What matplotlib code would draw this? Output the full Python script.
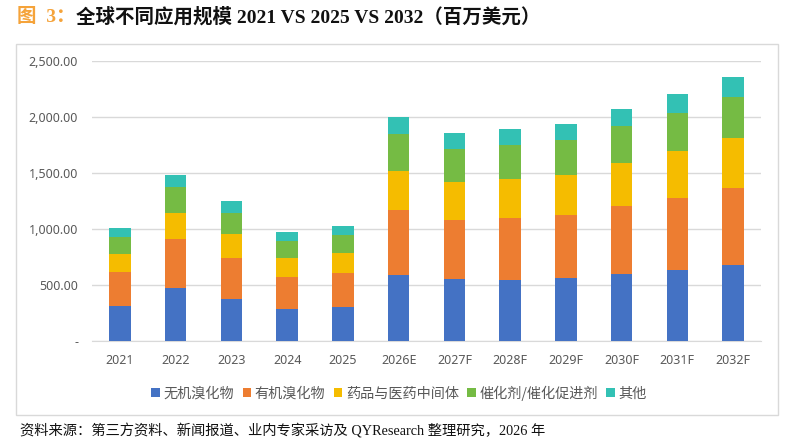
import matplotlib
matplotlib.use("Agg")
import matplotlib.pyplot as plt
import numpy as np
from matplotlib.patches import Rectangle
from matplotlib.ticker import FuncFormatter, MultipleLocator

plt.rcParams['font.family'] = ['Noto Sans', 'Noto Sans CJK SC', 'DejaVu Sans']

categories = ["2021", "2022", "2023", "2024", "2025", "2026E", "2027F",
              "2028F", "2029F", "2030F", "2031F", "2032F"]
series_names = ["无机溴化物", "有机溴化物", "药品与医药中间体", "催化剂/催化促进剂", "其他"]
inorganic = [312, 476, 378, 288, 306, 589, 556, 547, 565, 601, 637, 681]
organic = [304, 435, 363, 283, 301, 581, 527, 554, 563, 607, 642, 688]
pharma = [161, 235, 214, 170, 181, 351, 339, 348, 354, 384, 420, 446]
catalyst = [154, 226, 191, 152, 161, 330, 295, 301, 313, 328, 337, 364]
others = [81, 110, 107, 83, 80, 152, 143, 146, 145, 154, 172, 181]
colors = ["#4472C4", "#ED7D31", "#F5BC00", "#75BB44", "#33C1B4"]

W, H = 791, 445
fig = plt.figure(figsize=(W / 100, H / 100), dpi=100)

# chart box
fig.patches.append(Rectangle((16 / W, 1 - 415 / H), (778 - 16) / W, (415 - 44) / H,
                             transform=fig.transFigure, fill=False,
                             edgecolor="#D9D9D9", linewidth=1))

ax = fig.add_axes([92 / W, 1 - 341 / H, (761 - 92) / W, (341 - 61) / H])
x = np.arange(len(categories))
bottom = np.zeros(len(categories))
for name, vals, c in zip(series_names, [inorganic, organic, pharma, catalyst, others], colors):
    ax.bar(x, vals, width=0.39, bottom=bottom, color=c, label=name, zorder=3)
    bottom += np.array(vals)

ax.set_xlim(-0.5, len(categories) - 0.5)
ax.set_ylim(0, 2500)
ax.yaxis.set_major_locator(MultipleLocator(500))
ax.yaxis.set_major_formatter(FuncFormatter(lambda v, p: "-" if v == 0 else f"{v:,.2f}"))
ax.grid(axis="y", color="#D9D9D9", linewidth=1, zorder=0)
ax.set_axisbelow(True)
for s in ["top", "right", "left"]:
    ax.spines[s].set_visible(False)
ax.spines["bottom"].set_color("#D9D9D9")
ax.tick_params(axis="both", length=0, labelsize=9, labelcolor="#595959")
ax.tick_params(axis="y", pad=10)
ax.tick_params(axis="x", pad=9)
ax.set_xticks(x)
ax.set_xticklabels(categories)

leg = fig.legend(loc="center", bbox_to_anchor=(399 / W, 1 - 393 / H), ncol=5, frameon=False,
                 prop={"family": ["Noto Sans CJK SC"], "size": 10.2},
                 handlelength=0.6, handleheight=0.6, handletextpad=0.25, columnspacing=0.6)
for t in leg.get_texts():
    t.set_color("#595959")

# title
t1 = fig.text(17 / W, 1 - 17 / H, "图  3：", ha="left", va="center",
              fontsize=14, fontweight="bold", color="#F5A33A",
              family=["Liberation Serif", "Noto Sans CJK SC"])
fig.canvas.draw()
ax.annotate("全球不同应用规模 2021 VS 2025 VS 2032（百万美元）", xy=(1, 0.5), xycoords=t1,
            ha="left", va="center", fontsize=14, fontweight="bold", color="#111111",
            family=["Liberation Serif", "Noto Sans CJK SC"], annotation_clip=False)

fig.text(20 / W, 1 - 431 / H, "资料来源：第三方资料、新闻报道、业内专家采访及 QYResearch 整理研究，2026 年",
         ha="left", va="center", fontsize=10.3, color="#111111",
         family=["Liberation Serif", "Noto Sans CJK SC"])

fig.savefig("out.png", dpi=100)
